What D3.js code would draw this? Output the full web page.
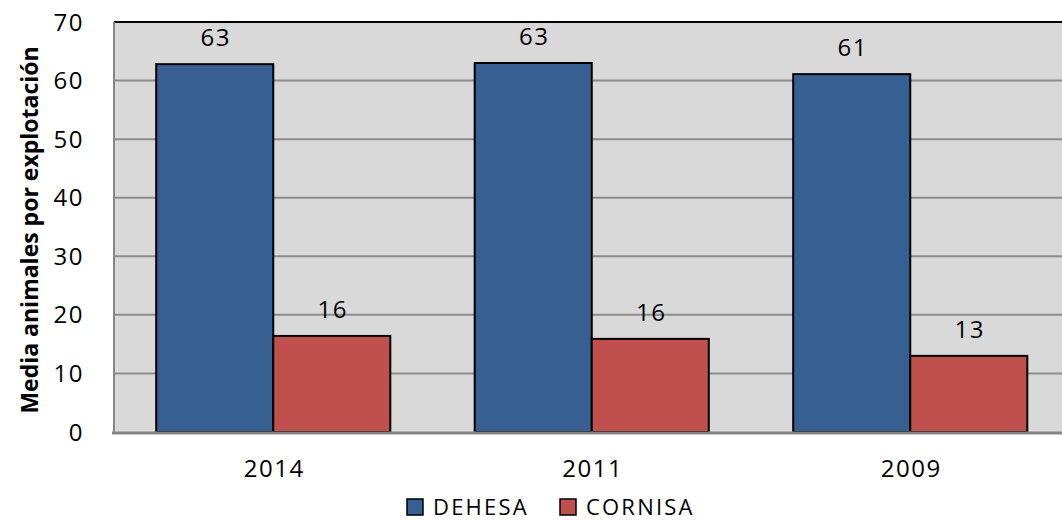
<!DOCTYPE html>
<html><head><meta charset="utf-8">
<script src="https://cdn.jsdelivr.net/npm/d3@7"></script>
<style>
html,body{margin:0;padding:0;background:#fff;overflow:hidden}
text{font-family:"Open Sans",sans-serif;fill:#000}
</style></head><body>
<svg id="c" width="1062" height="520"></svg>
<script>
const categories = ["2014", "2011", "2009"];
const seriesNames = ["DEHESA", "CORNISA"];
const dehesa = [62.8, 63.0, 61.1];
const cornisa = [16.4, 15.9, 13.0];
const dehesaLabels = ["63", "63", "61"];
const cornisaLabels = ["16", "16", "13"];
const yTicks = [0, 10, 20, 30, 40, 50, 60, 70];
const colors = ["#375F91", "#C0504D"];

const svg = d3.select("#c");
const L = 114, T = 22, B = 432, R = 1069.5;
const x0 = d3.scaleBand().domain(categories).range([L, R]).paddingInner(0.265).paddingOuter(0.1325);
const x1 = d3.scaleBand().domain(seriesNames).range([0, x0.bandwidth()]);
const y = d3.scaleLinear().domain([0, 70]).range([B, T]);

svg.append("rect").attr("x", L).attr("y", T).attr("width", R - L).attr("height", B - T).attr("fill", "#D9D9D9");

// grid
svg.append("g").selectAll("line").data(yTicks.filter(d => d > 0 && d < 70)).join("line")
  .attr("x1", L).attr("x2", R).attr("y1", d => y(d)).attr("y2", d => y(d))
  .attr("stroke", "#8C8C8C").attr("stroke-width", 2);

// top border
svg.append("line").attr("x1", L).attr("x2", R).attr("y1", T).attr("y2", T).attr("stroke", "#000").attr("stroke-width", 2);
// left axis
svg.append("line").attr("x1", L).attr("x2", L).attr("y1", T).attr("y2", B).attr("stroke", "#868686").attr("stroke-width", 2);

const data = categories.map((c, i) => ({c, vals: [
  {s: seriesNames[0], v: dehesa[i], l: dehesaLabels[i]},
  {s: seriesNames[1], v: cornisa[i], l: cornisaLabels[i]}]}));

const g = svg.append("g").selectAll("g").data(data).join("g")
  .attr("transform", d => `translate(${x0(d.c)},0)`);
g.selectAll("rect").data(d => d.vals).join("rect")
  .attr("x", d => x1(d.s)).attr("width", x1.bandwidth())
  .attr("y", d => y(d.v)).attr("height", d => B - y(d.v))
  .attr("fill", (d, i) => colors[i]).attr("stroke", "#000").attr("stroke-width", 2);
g.selectAll("text").data(d => d.vals).join("text")
  .attr("x", d => x1(d.s) + x1.bandwidth() / 2 + 1).attr("y", d => y(d.v) - 18)
  .attr("text-anchor", "middle").attr("font-size", 24).attr("letter-spacing", 1.5).text(d => d.l);

// bottom axis
svg.append("line").attr("x1", L - 2).attr("x2", R).attr("y1", B + 1).attr("y2", B + 1).attr("stroke", "#868686").attr("stroke-width", 3);

// y tick labels
svg.append("g").selectAll("text").data(yTicks).join("text")
  .attr("x", 84).attr("y", d => y(d)).attr("dy", "0.36em").attr("text-anchor", "end")
  .attr("font-size", 24).attr("letter-spacing", 1.5).text(d => d);

// x labels
svg.append("g").selectAll("text").data(categories).join("text")
  .attr("x", d => x0(d) + x0.bandwidth() / 2 + 1).attr("y", 477).attr("text-anchor", "middle")
  .attr("font-size", 24).attr("letter-spacing", 1.5).text(d => d);

// y title
svg.append("text").attr("transform", "translate(38,230) rotate(-90)").attr("text-anchor", "middle")
  .attr("font-size", 23).attr("font-weight", "bold").text("Media animales por explotación");

// legend
const lg = svg.append("g");
const lx = [407, 560];
seriesNames.forEach((s, i) => {
  lg.append("rect").attr("x", lx[i]).attr("y", 499).attr("width", 16).attr("height", 16)
    .attr("fill", colors[i]).attr("stroke", "#000").attr("stroke-width", 1.5);
  lg.append("text").attr("x", lx[i] + 26).attr("y", 514.5).attr("font-size", 22).attr("letter-spacing", 2.2).text(s);
});
</script></body></html>
